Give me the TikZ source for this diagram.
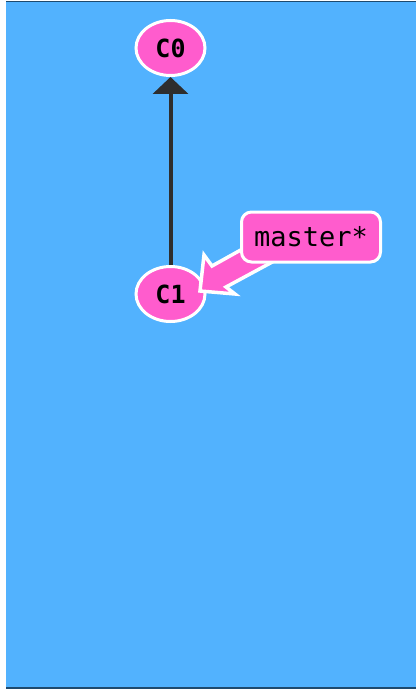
\documentclass[tikz,border=0pt]{standalone}
\usepackage{fontspec}
\newfontfamily\monofont{DejaVu Sans Mono}
\usetikzlibrary{arrows.meta,calc,shapes.geometric}
\definecolor{skyblue}{HTML}{52B2FE}
\definecolor{framedark}{HTML}{1E4A6E}
\definecolor{commitpink}{HTML}{FF5CCD}
\definecolor{edgegray}{HTML}{2E2E2E}
\tikzset{
  commit/.style={ellipse, draw=white, line width=3pt, fill=commitpink,
    minimum width=69pt, minimum height=55pt, inner sep=0pt,
    font=\monofont\bfseries\fontsize{25}{25}\selectfont},
  branch/.style={draw=white, line width=3pt, fill=commitpink, rounded corners=10pt,
    minimum width=139pt, minimum height=50pt, inner sep=0pt,
    font=\monofont\fontsize{27}{27}\selectfont},
  parent/.style={draw=edgegray, line width=4pt,
    -{Triangle[length=17pt,width=35pt]}},
  pointer/.style={fill=commitpink, draw=white, line width=3.5pt, line join=miter}
}
\begin{document}
\begin{tikzpicture}[x=1pt,y=-1pt]
  \useasboundingbox (0,0) rectangle (416,690);
  \fill[white] (0,0) rectangle (416,690);
  \fill[skyblue] (6,2) rectangle (416,688);
  \draw[framedark, line width=1.5pt] (6,1.5) -- (416,1.5);
  \draw[framedark, line width=1.5pt] (6,688) -- (416,688);

  % commits
  \node[commit] (c0) at (170.5,48) {C0};
  \node[commit] (c1) at (170.5,294) {C1};
  \draw[parent] (c1.north) -- (c0.south);

  % fat pointer from the branch label to its commit; its tail runs under the label
  \coordinate (ptip) at ($(c1.center)+(30.5,-4)$);
  \draw[pointer, shift={(ptip)}]
    (-1,1) -- (3,-35) -- (11,-24) -- (63,-53) -- (75,-30) -- (25,-3) -- (34,4) -- cycle;

  % branch label
  \node[branch] (master) at (311,237) {master*};
\end{tikzpicture}
\end{document}
